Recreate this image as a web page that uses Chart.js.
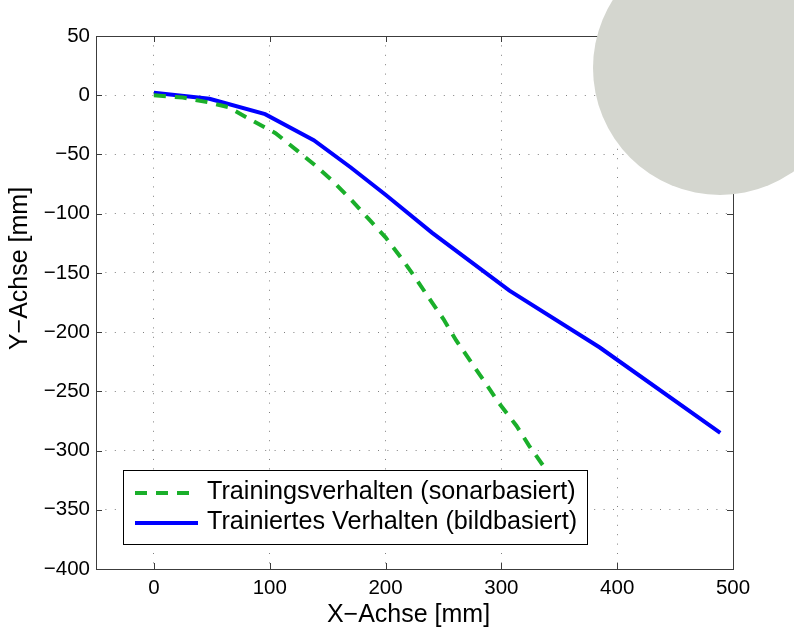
<!DOCTYPE html>
<html>
<head>
<meta charset="utf-8">
<script src="https://cdn.jsdelivr.net/npm/chart.js@4/dist/chart.umd.min.js"></script>
<style>
  html, body { margin: 0; padding: 0; background: #ffffff; }
  #wrap { width: 794px; height: 632px; position: relative; }
</style>
</head>
<body>
<div id="wrap"><canvas id="c" width="794" height="632"></canvas></div>
<script>
// ---- data ----
const seriesLabels = ['Trainingsverhalten (sonarbasiert)', 'Trainiertes Verhalten (bildbasiert)'];
const trainX = [0, 25, 47, 64, 86, 105, 124, 139, 155, 171, 185, 200, 214, 225, 238, 250, 261, 287, 298, 313, 324, 337, 356];
const trainY = [0, -2, -6, -10, -22, -32, -47, -59, -73, -89, -104, -120, -138, -153, -172, -189, -207, -244, -260, -279, -296, -314, -342];
const learnedX = [0, 48, 96, 138, 170, 200, 240, 307, 385, 489];
const learnedY = [2, -3, -16, -38, -61, -84, -116, -165, -213, -285];
const xTicks = [0, 100, 200, 300, 400, 500];
const yTicks = [-400, -350, -300, -250, -200, -150, -100, -50, 0, 50];
const xRange = [-50, 500];
const yRange = [-400, 50];
const xTitle = 'X\u2212Achse [mm]';
const yTitle = 'Y\u2212Achse [mm]';

const FONT = "'Liberation Sans', Arial, Helvetica, sans-serif";
const AXIS_COLOR = '#3c3c3c';

function toPoints(xs, ys) { return xs.map((x, i) => ({ x: x, y: ys[i] })); }
function fmt(v) { return String(v).replace('-', '\u2212'); }

// inward ticks + full box
const boxTicks = {
  id: 'boxTicks',
  afterDatasetsDraw(chart) {
    const { ctx, chartArea: a, scales: { x, y } } = chart;
    ctx.save();
    ctx.strokeStyle = AXIS_COLOR;
    ctx.lineWidth = 1;
    ctx.setLineDash([]);
    const L = 6;
    ctx.beginPath();
    xTicks.forEach(v => {
      const px = Math.round(x.getPixelForValue(v)) + 0.5;
      ctx.moveTo(px, a.bottom); ctx.lineTo(px, a.bottom - L);
      ctx.moveTo(px, a.top); ctx.lineTo(px, a.top + L);
    });
    yTicks.forEach(v => {
      const py = Math.round(y.getPixelForValue(v)) + 0.5;
      ctx.moveTo(a.left, py); ctx.lineTo(a.left + L, py);
      ctx.moveTo(a.right, py); ctx.lineTo(a.right - L, py);
    });
    ctx.stroke();
    ctx.strokeRect(Math.round(a.left) + 0.5, Math.round(a.top) + 0.5,
                   Math.round(a.right - a.left), Math.round(a.bottom - a.top));
    ctx.restore();
  }
};

// axis titles (placed as in the reference, slightly off-centre)
const axisTitles = {
  id: 'axisTitles',
  afterDraw(chart) {
    const { ctx, chartArea: a } = chart;
    ctx.save();
    ctx.fillStyle = '#000';
    ctx.font = "25px " + FONT;
    ctx.textAlign = 'center';
    ctx.textBaseline = 'middle';
    ctx.fillText(xTitle, (a.left + a.right) / 2 - 6, 615);
    ctx.translate(20, (a.top + a.bottom) / 2 - 34);
    ctx.rotate(-Math.PI / 2);
    ctx.fillText(yTitle, 0, 0);
    ctx.restore();
  }
};

// legend box inside the plot (bottom-left)
const boxLegend = {
  id: 'boxLegend',
  afterDatasetsDraw(chart) {
    const { ctx, chartArea: a } = chart;
    ctx.save();
    ctx.font = "25.2px " + FONT;
    const textW = Math.max(...chart.data.datasets.map(d => ctx.measureText(d.label).width));
    const left = a.left + 27, bottom = a.bottom - 25;
    const rowH = 30, padTop = 7, padBottom = 7;
    const sampleL = 12, sampleW = 63, gap = 9, padR = 10;
    const w = sampleL + sampleW + gap + textW + padR;
    const h = padTop + rowH * chart.data.datasets.length + padBottom;
    const top = bottom - h;
    ctx.fillStyle = '#ffffff';
    ctx.fillRect(left, top, w, h);
    ctx.strokeStyle = '#000000';
    ctx.lineWidth = 1;
    ctx.setLineDash([]);
    ctx.strokeRect(Math.round(left) + 0.5, Math.round(top) + 0.5, Math.round(w), Math.round(h));
    chart.data.datasets.forEach((d, i) => {
      const cy = top + padTop + rowH * i + rowH / 2 + 1;
      ctx.strokeStyle = d.borderColor;
      ctx.lineWidth = d.borderWidth;
      ctx.setLineDash(d.borderDash || []);
      ctx.lineCap = 'butt';
      ctx.beginPath();
      ctx.moveTo(left + sampleL, cy);
      ctx.lineTo(left + sampleL + sampleW, cy);
      ctx.stroke();
      ctx.setLineDash([]);
      ctx.fillStyle = '#000000';
      ctx.textBaseline = 'middle';
      ctx.textAlign = 'left';
      ctx.fillText(d.label, left + sampleL + sampleW + gap, cy - 1);
    });
    ctx.restore();
  }
};

// decorative grey disc at the top right
const disc = {
  id: 'disc',
  afterDraw(chart) {
    const { ctx } = chart;
    ctx.save();
    ctx.fillStyle = '#d4d6cf';
    ctx.beginPath();
    ctx.arc(720, 68, 127, 0, Math.PI * 2);
    ctx.fill();
    ctx.restore();
  }
};

new Chart(document.getElementById('c'), {
  type: 'scatter',
  data: {
    datasets: [
      {
        label: seriesLabels[0],
        data: toPoints(trainX, trainY),
        showLine: true,
        borderColor: '#1aaf2a',
        backgroundColor: '#1aaf2a',
        borderWidth: 4,
        borderDash: [12, 9],
        pointRadius: 0,
        tension: 0
      },
      {
        label: seriesLabels[1],
        data: toPoints(learnedX, learnedY),
        showLine: true,
        borderColor: '#0000ff',
        backgroundColor: '#0000ff',
        borderWidth: 4,
        pointRadius: 0,
        tension: 0
      }
    ]
  },
  options: {
    responsive: false,
    animation: false,
    devicePixelRatio: 1,
    layout: { padding: { left: 0, top: 36, right: 61, bottom: 0 } },
    plugins: { legend: { display: false }, tooltip: { enabled: false } },
    scales: {
      x: {
        type: 'linear',
        min: xRange[0], max: xRange[1],
        afterBuildTicks: s => { s.ticks = xTicks.map(v => ({ value: v })); },
        afterFit: s => { s.height = 63; },
        ticks: { color: '#000', font: { family: FONT, size: 20.5 }, padding: 7, callback: v => fmt(v), maxRotation: 0, autoSkip: false },
        grid: { color: 'rgba(0,0,0,0.5)', lineWidth: 1, drawTicks: false, borderDash: [1, 8.4] },
        border: { display: false, dash: [1, 8.4] },
        title: { display: false, text: xTitle }
      },
      y: {
        type: 'linear',
        min: yRange[0], max: yRange[1],
        afterBuildTicks: s => { s.ticks = yTicks.map(v => ({ value: v })); },
        afterFit: s => { s.width = 96; },
        ticks: { color: '#000', font: { family: FONT, size: 20.5 }, padding: 6, callback: v => fmt(v), autoSkip: false },
        grid: { color: 'rgba(0,0,0,0.5)', lineWidth: 1, drawTicks: false, borderDash: [1, 8.4] },
        border: { display: false, dash: [1, 8.4] },
        title: { display: false, text: yTitle }
      }
    }
  },
  plugins: [boxTicks, boxLegend, axisTitles, disc]
});
</script>
</body>
</html>
